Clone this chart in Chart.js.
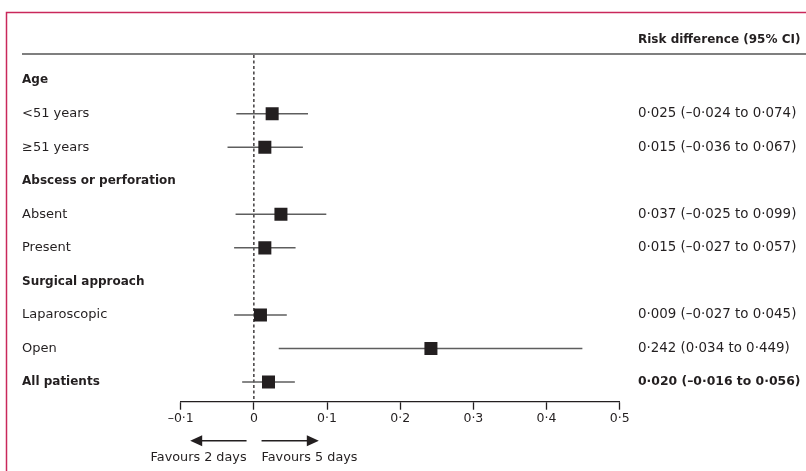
<!DOCTYPE html>
<html>
<head>
<meta charset="utf-8">
<script src="https://cdn.jsdelivr.net/npm/chart.js@4"></script>
<style>
  html, body { margin: 0; padding: 0; background: #fff; overflow: hidden; }
  canvas { display: block; }
</style>
</head>
<body>
<canvas id="forest" width="806" height="471"></canvas>
<script>
// rows top to bottom; null = group header row
const rowLabels = ['Age', '<51 years', '≥51 years', 'Abscess or perforation', 'Absent', 'Present',
    'Surgical approach', 'Laparoscopic', 'Open', 'All patients'];
const boldRows = [true, false, false, true, false, false, true, false, false, true];
const estimates = [null, 0.025, 0.015, null, 0.037, 0.015, null, 0.009, 0.242, 0.020];
const ciLow = [null, -0.024, -0.036, null, -0.025, -0.027, null, -0.027, 0.034, -0.016];
const ciHigh = [null, 0.074, 0.067, null, 0.099, 0.057, null, 0.045, 0.449, 0.056];
const ciText = ['', '0·025 (–0·024 to 0·074)', '0·015 (–0·036 to 0·067)', '',
    '0·037 (–0·025 to 0·099)', '0·015 (–0·027 to 0·057)', '',
    '0·009 (–0·027 to 0·045)', '0·242 (0·034 to 0·449)', '0·020 (–0·016 to 0·056)'];
const xTickValues = [-0.1, 0, 0.1, 0.2, 0.3, 0.4, 0.5];
const xTickLabels = ['–0·1', '0', '0·1', '0·2', '0·3', '0·4', '0·5'];
const headerText = 'Risk difference (95% CI)';
const favoursLeft = 'Favours 2 days';
const favoursRight = 'Favours 5 days';

const ink = '#231f20';
const FONT = '"DejaVu Sans", sans-serif';
const yMin = -0.755, yMax = 9.59;
const rowTicks = scale => { scale.ticks = rowLabels.map((_, i) => ({ value: i })); };

const ciSets = rowLabels.map((_, i) => estimates[i] === null ? null : {
    data: [{ x: ciLow[i], y: i }, { x: ciHigh[i], y: i }],
    showLine: true,
    borderColor: '#5e5e5e',
    borderWidth: 1.5,
    pointRadius: 0,
    order: 2,
}).filter(Boolean);

const decor = {
    id: 'decor',
    afterDraw(chart) {
        const { ctx, scales: { x, y2 } } = chart;
        ctx.save();
        // figure frame
        ctx.strokeStyle = '#c9285b';
        ctx.lineWidth = 1.5;
        ctx.strokeRect(6.5, 12.5, 1000, 1000);
        // rule under header
        ctx.strokeStyle = '#555';
        ctx.lineWidth = 1.3;
        ctx.beginPath();
        ctx.moveTo(22, 54);
        ctx.lineTo(chart.width, 54);
        ctx.stroke();
        // header
        ctx.fillStyle = ink;
        ctx.textBaseline = 'middle';
        ctx.textAlign = 'left';
        ctx.font = 'bold 12px ' + FONT;
        ctx.fillText(headerText, y2.left + 18.3, 40);

        // direction arrows below the axis
        const ay = x.top + 39;
        const arrow = (from, to) => {
            const a = x.getPixelForValue(from), b = x.getPixelForValue(to);
            const dir = Math.sign(b - a);
            ctx.strokeStyle = ink;
            ctx.lineWidth = 1.5;
            ctx.beginPath();
            ctx.moveTo(a, ay);
            ctx.lineTo(b - dir * 8, ay);
            ctx.stroke();
            ctx.fillStyle = ink;
            ctx.beginPath();
            ctx.moveTo(b, ay);
            ctx.lineTo(b - dir * 12, ay - 5.5);
            ctx.lineTo(b - dir * 12, ay + 5.5);
            ctx.closePath();
            ctx.fill();
        };
        arrow(-0.01, -0.087);
        arrow(0.0105, 0.0888);

        ctx.font = '12.8px ' + FONT;
        ctx.fillStyle = ink;
        ctx.textAlign = 'right';
        ctx.fillText(favoursLeft, x.getPixelForValue(-0.01), ay + 16.5);
        ctx.textAlign = 'left';
        ctx.fillText(favoursRight, x.getPixelForValue(0.0105), ay + 16.5);
        ctx.restore();
    }
};

new Chart(document.getElementById('forest'), {
    type: 'scatter',
    data: {
        datasets: [
            {
                data: estimates.map((v, i) => v === null ? null : { x: v, y: i }).filter(Boolean),
                pointStyle: 'rect',
                pointRadius: 9.2,
                pointHoverRadius: 9.2,
                backgroundColor: ink,
                borderColor: ink,
                borderWidth: 0,
                order: 0,
            },
            {
                data: [{ x: 0, y: yMin }, { x: 0, y: yMax }],
                showLine: true,
                borderColor: ink,
                borderWidth: 1.3,
                borderDash: [3, 2.5],
                pointRadius: 0,
                order: 3,
            },
            ...ciSets
        ]
    },
    options: {
        responsive: false,
        animation: false,
        devicePixelRatio: 1,
        layout: { padding: { left: 22, top: 55, right: 0, bottom: 45.3 } },
        plugins: { legend: { display: false }, tooltip: { enabled: false } },
        scales: {
            x: {
                type: 'linear',
                min: -0.1,
                max: 0.5,
                afterBuildTicks: s => { s.ticks = xTickValues.map(v => ({ value: v })); },
                afterFit: s => { s.height = 24; },
                grid: { drawOnChartArea: false, drawTicks: true, tickLength: 8, tickColor: ink, tickWidth: 1.3 },
                border: { display: true, color: ink, width: 1.3 },
                ticks: {
                    padding: 2,
                    color: ink,
                    font: { family: FONT, size: 12.5 },
                    callback: (v, i) => xTickLabels[i],
                }
            },
            y: {
                type: 'linear',
                position: 'left',
                reverse: true,
                min: yMin,
                max: yMax,
                afterBuildTicks: rowTicks,
                afterFit: s => { s.width = 158.7; },
                grid: { display: false, drawTicks: false },
                border: { display: false },
                ticks: {
                    autoSkip: false,
                    crossAlign: 'far',
                    padding: 0,
                    color: ink,
                    font: c => (c.tick && boldRows[c.tick.value])
                        ? { family: FONT, size: 12, weight: 'bold' }
                        : { family: FONT, size: 13 },
                    callback: v => rowLabels[v],
                }
            },
            y2: {
                type: 'linear',
                position: 'right',
                reverse: true,
                min: yMin,
                max: yMax,
                afterBuildTicks: rowTicks,
                afterFit: s => { s.width = 186.3; },
                grid: { display: false, drawTicks: false },
                border: { display: false },
                ticks: {
                    autoSkip: false,
                    padding: 18.3,
                    color: ink,
                    font: c => (c.tick && c.tick.value === 9)
                        ? { family: FONT, size: 12.4, weight: 'bold' }
                        : { family: FONT, size: 13.4 },
                    callback: v => ciText[v],
                }
            }
        }
    },
    plugins: [decor]
});
</script>
</body>
</html>
